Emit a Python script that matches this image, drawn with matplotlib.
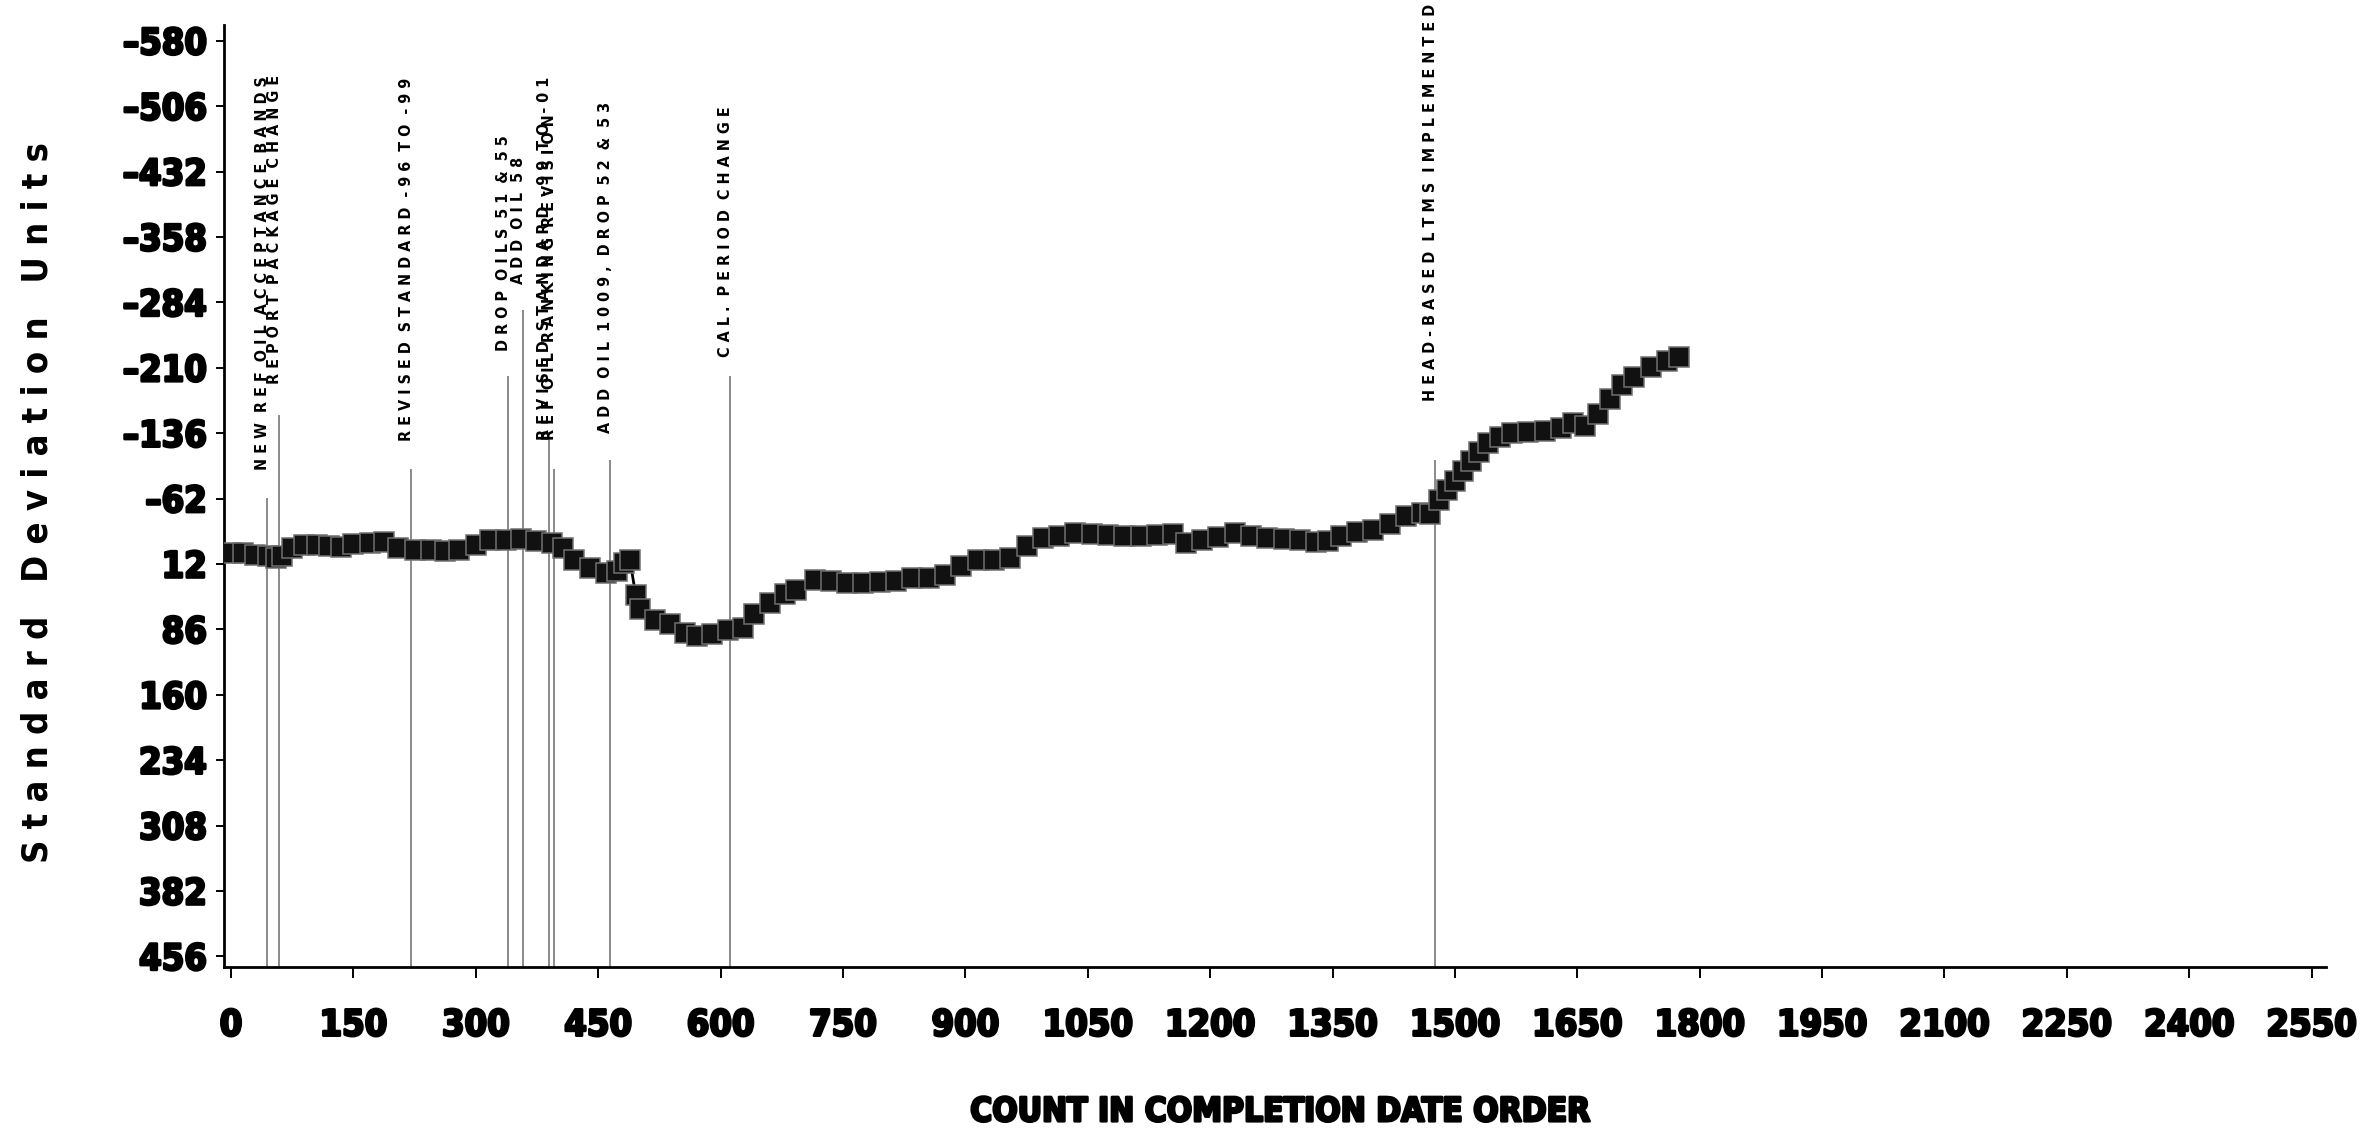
import os

import matplotlib

matplotlib.use("Agg")
import matplotlib.pyplot as plt
import matplotlib.patheffects as pe
from matplotlib import font_manager, transforms
from matplotlib.font_manager import FontProperties

# cumulative severity in standard deviation units, by test count
count = [0, 15, 30, 45, 55, 62, 75, 90, 105, 120, 135, 150, 170, 187, 205,
         225, 245, 262, 280, 300, 318, 337, 355, 374, 393, 407, 421, 440, 459,
         473, 482, 489, 496, 501, 520, 538, 557, 571, 590, 609, 627, 641, 660,
         679, 693, 716, 735, 755, 775, 795, 815, 835, 855, 875, 895, 915, 935,
         955, 975, 995, 1015, 1035, 1055, 1075, 1095, 1115, 1135, 1155, 1170,
         1190, 1210, 1230, 1250, 1270, 1290, 1310, 1330, 1345, 1360, 1380,
         1400, 1420, 1440, 1460, 1470, 1480, 1490, 1500, 1510, 1520, 1530,
         1540, 1555, 1570, 1590, 1610, 1630, 1645, 1660, 1675, 1690, 1705,
         1720, 1740, 1760, 1775]
sdu = [0, 0, 2, 3, 5, 3, -6, -10, -10, -8, -7, -11, -12, -13, -6,
       -4, -4, -3, -4, -10, -15, -15, -16, -14, -12, -6, 7, 16, 22,
       20, 11, 8, 47, 63, 75, 80, 90, 93, 91, 87, 84, 69, 56,
       46, 41, 30, 31, 33, 34, 32, 31, 28, 28, 24, 14, 8, 7,
       5, -8, -17, -20, -23, -22, -21, -20, -20, -21, -22, -12,
       -15, -19, -23, -20, -17, -16, -15, -13, -14, -20, -24,
       -27, -33, -42, -46, -45, -60, -72, -82, -93, -104, -115,
       -125, -132, -136, -137, -138, -142, -148, -144, -158, -175, -190,
       -200, -211, -218, -222]

# reference events: count, top of marker line, label
event_x = [44, 59, 221, 339, 358, 390, 396, 465, 611, 1476]
event_top = [-62, -156, -94, -200, -274, -136, -94, -104, -200, -105]
event_text_y = [-94, -192, -127, -229, -305, -128, -128, -136, -222, -172]
event_labels = [
    "NEW REF OIL ACCEPTANCE BANDS",
    "REPORT PACKAGE CHANGE",
    "REVISED STANDARD -96 TO -99",
    "DROP OILS 51 & 55",
    "ADD OIL 58",
    "REVISED STANDARD -99 TO -01",
    "REF OIL RANKING REVISION",
    "ADD OIL 1009, DROP 52 & 53",
    "CAL. PERIOD CHANGE",
    "HEAD-BASED LTMS IMPLEMENTED",
]

y_ticks = list(range(-580, 457, 74))
x_ticks = list(range(0, 2551, 150))


def find_face(candidates):
    """First installed font file whose basename is in candidates."""
    files = {os.path.basename(f.fname): f.fname
             for f in font_manager.fontManager.ttflist}
    for name in candidates:
        if name in files:
            return files[name]
    return None


bold_file = find_face(["LiberationSansNarrow-Bold.ttf",
                       "NotoSans-CondensedBold.ttf",
                       "DejaVuSansCondensed-Bold.ttf",
                       "RobotoCondensed-Bold.ttf",
                       "OpenSans_Condensed-Bold.ttf"])
if bold_file:
    BOLD = FontProperties(fname=bold_file)
    k = 1.0
else:
    BOLD = FontProperties(family="Liberation Sans", weight="bold")
    k = 0.85


def spaced(s):
    # letter-spaced caps, two blanks between words
    return "  ".join(" ".join(w) for w in s.split())


def prop(size):
    p = BOLD.copy()
    p.set_size(size * k)
    return p


fig = plt.figure(figsize=(23.69, 11.31), dpi=100, facecolor="white")
ax = fig.add_axes([0.0944, 0.145, 0.8876, 0.833])

ax.plot(count, sdu, color="black", lw=2, marker="s", ms=14,
        mfc="#111111", mec="#707070", mew=1.1, zorder=3)

shift = transforms.offset_copy(ax.transData, fig=fig, x=-4.5, y=0, units="dots")
for x, top, ty, lab in zip(event_x, event_top, event_text_y, event_labels):
    ax.plot([x, x], [468, top], color="#8a8a8a", lw=1.4, zorder=2)
    ax.text(x, ty, spaced(lab), rotation=90, ha="center", va="bottom",
            fontproperties=prop(11.5), color="black", transform=shift)

ax.set_xlim(-9, 2568)
ax.set_ylim(468, -598)
ax.set_xticks(x_ticks)
ax.set_yticks(y_ticks)
ax.set_xticklabels([str(v) for v in x_ticks])
ax.set_yticklabels([str(v).replace("-", "\u2013") for v in y_ticks])

heavy = [pe.withStroke(linewidth=1.9, foreground="black")]
for lab in ax.get_xticklabels() + ax.get_yticklabels():
    lab.set_fontproperties(prop(26))
    lab.set_path_effects(heavy)

ax.tick_params(axis="y", direction="out", length=6, width=1.4, pad=6)
ax.tick_params(axis="x", direction="out", length=8, width=1.4, pad=22)
for side in ("top", "right"):
    ax.spines[side].set_visible(False)
for side in ("left", "bottom"):
    ax.spines[side].set_linewidth(2)

fig.text(0.5405, 0.017, "COUNT IN COMPLETION DATE ORDER", ha="center",
         va="center", fontproperties=prop(24), path_effects=heavy)
fig.text(0.016, 0.556, "S t a n d a r d   D e v i a t i o n   U n i t s",
         rotation=90, ha="center", va="center", fontproperties=prop(26))

fig.savefig("out.png", dpi=100, facecolor="white")
